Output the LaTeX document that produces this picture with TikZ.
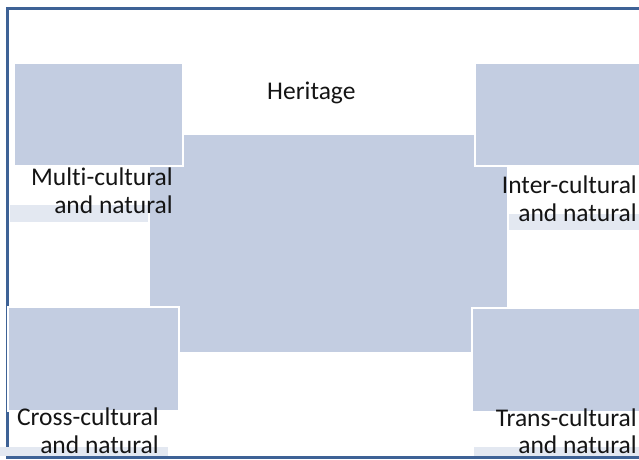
\documentclass[tikz,border=0pt]{standalone}
\usepackage{fontspec}
\setmainfont[Ligatures=NoCommon]{Carlito}
\definecolor{boxfill}{RGB}{195,205,225}
\definecolor{stripfill}{RGB}{227,232,241}
\definecolor{framecol}{RGB}{62,98,150}
\definecolor{txt}{RGB}{20,20,20}
\begin{document}
\begin{tikzpicture}[x=1pt,y=-1pt,
  panel/.style={fill=boxfill,draw=white,line width=1.5pt},
  strip/.style={fill=stripfill,draw=none},
  lbl/.style={inner sep=0pt,text=txt,font=\fontsize{25.5}{28}\selectfont},
  lblr/.style={lbl,anchor=base east},
  lbll/.style={lbl,anchor=base west}]
\useasboundingbox (0,0) rectangle (639,459);
\clip (0,0) rectangle (639,459);
% frame
\draw[framecol,line width=2.7pt] (7.3,8.3) rectangle (680,457.6);
% strips
\fill[strip] (10,205) rectangle (149,222);
\fill[strip] (508,214) rectangle (645,230);
\fill[strip] (0,447) rectangle (168,456.3);
\fill[strip] (474,447) rectangle (645,456.3);
% centre panel
\path[panel] (149,134) rectangle (508,353);
% corner panels
\path[panel] (14,63) rectangle (183,166);
\path[panel] (475,63) rectangle (660,166);
\path[panel] (8,307) rectangle (179,411);
\path[panel] (472,308) rectangle (660,412);
% labels
\node[lbll] (her) at (267,99) {Heritage};
\node[lblr] (mc1) at (173,185) {Multi-cultural};
\node[lblr] (mc2) at (173,213) {and natural};
\node[lblr] (ic1) at (637,193) {Inter-cultural};
\node[lblr] (ic2) at (637,221) {and natural};
\node[lblr] (cc1) at (159,425) {Cross-cultural};
\node[lblr] (cc2) at (159,453) {and natural};
\node[lblr] (tc1) at (637,426) {Trans-cultural};
\node[lblr] (tc2) at (637,453) {and natural};
\end{tikzpicture}
\end{document}
